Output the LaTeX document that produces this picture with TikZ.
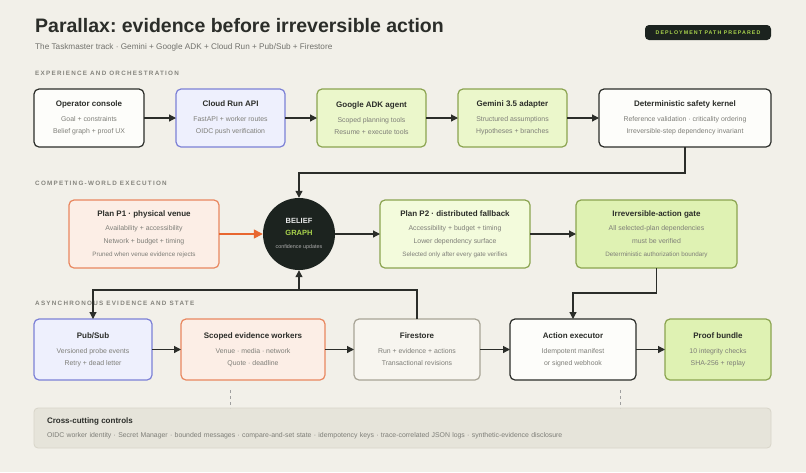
\documentclass[tikz,border=0pt]{standalone}
\usepackage{fontspec}
\setmainfont{Liberation Sans}
\newfontfamily\trackfont[LetterSpace=20]{Liberation Sans}
\usetikzlibrary{arrows.meta,positioning,calc}
\frenchspacing

\definecolor{canvas}{HTML}{F2F0E9}
\definecolor{ink}{HTML}{2B2D29}
\definecolor{muted}{HTML}{7E7E78}
\definecolor{lanegray}{HTML}{85847D}
\definecolor{paper}{HTML}{FDFDFA}
\definecolor{bluefill}{HTML}{EEF0FD}
\definecolor{blueedge}{HTML}{7C80D6}
\definecolor{greenfill}{HTML}{EBF7CB}
\definecolor{palegreen}{HTML}{F3FBDC}
\definecolor{gatefill}{HTML}{DFF2B3}
\definecolor{greenedge}{HTML}{8BA450}
\definecolor{orangefill}{HTML}{FCEEE6}
\definecolor{orangeedge}{HTML}{E9875F}
\definecolor{hotarrow}{HTML}{E8662F}
\definecolor{storefill}{HTML}{F7F5EF}
\definecolor{storeedge}{HTML}{A8A496}
\definecolor{ctrlfill}{HTML}{E6E4DA}
\definecolor{ctrledge}{HTML}{D8D5C9}
\definecolor{night}{HTML}{1C231F}
\definecolor{lime}{HTML}{A9D34C}

\newcommand{\cardtitle}[1]{{\fontsize{8}{10}\selectfont\bfseries\color{ink}#1}}
\newcommand{\fineline}[1]{{\fontsize{6.3}{8}\selectfont #1}}

\tikzset{
  card/.style={rectangle, rounded corners=5pt, line width=1.2pt, align=center,
    text=muted, font=\fontsize{6.9}{12}\selectfont, inner sep=0pt, outer sep=0pt},
  plain/.style={card, draw=ink, fill=paper},
  cloud/.style={card, draw=blueedge, fill=bluefill},
  agent/.style={card, draw=greenedge, fill=greenfill},
  hot/.style={card, draw=orangeedge, fill=orangefill},
  store/.style={card, draw=storeedge, fill=storefill},
  lane/.style={anchor=base west, inner sep=0pt, text=lanegray,
    font=\trackfont\bfseries\fontsize{6.3}{7}\selectfont},
  flow/.style={draw=ink, line width=1.2pt, -{Triangle[length=7pt,width=7pt]}},
  hotflow/.style={draw=hotarrow, line width=1.4pt, -{Triangle[length=9pt,width=9pt]}},
  tick/.style={draw=gray!75, line width=0.8pt, dash pattern=on 3pt off 3pt},
}

\begin{document}
\begin{tikzpicture}[x=1pt, y=-1pt]
\fill[canvas] (0,0) rectangle (806,472);
\useasboundingbox (0,0) rectangle (806,472);
% Header
\node[anchor=base west, inner sep=0pt, text=ink, font=\fontsize{19.5}{22}\selectfont\bfseries]
  (title) at (35,32.5) {Parallax: evidence before irreversible action};
\node[anchor=base west, inner sep=0pt, text=muted!90!black, font=\fontsize{8.2}{10}\selectfont]
  (sub) at (35,49.3) {The Taskmaster track · Gemini + Google ADK + Cloud Run + Pub/Sub + Firestore};
\node[rectangle, rounded corners=4pt, fill=night, minimum width=126pt, minimum height=15pt,
      inner sep=0pt, text=lime, font=\trackfont\bfseries\fontsize{5.3}{6}\selectfont]
  (ready) at (708,32.5) {DEPLOYMENT PATH PREPARED};
% Lane labels
\node[lane] (lane1) at (35,75)  {EXPERIENCE AND ORCHESTRATION};
\node[lane] (lane2) at (35,185) {COMPETING-WORLD EXECUTION};
\node[lane] (lane3) at (35,305) {ASYNCHRONOUS EVIDENCE AND STATE};
% Row 1: orchestration
\node[plain, minimum width=110pt, minimum height=58pt] (op)   at (89,118)
  {\cardtitle{Operator console}\\[3pt] Goal + constraints\\ Belief graph + proof UX};
\node[cloud, minimum width=109pt, minimum height=58pt] (api)  at (230.5,118)
  {\cardtitle{Cloud Run API}\\[3pt] FastAPI + worker routes\\ OIDC push verification};
\node[agent, minimum width=109pt, minimum height=58pt] (adk)  at (371.5,118)
  {\cardtitle{Google ADK agent}\\[3pt] Scoped planning tools\\ Resume + execute tools};
\node[agent, minimum width=109pt, minimum height=58pt] (gem)  at (512.5,118)
  {\cardtitle{Gemini 3.5 adapter}\\[3pt] Structured assumptions\\ Hypotheses + branches};
\node[plain, minimum width=172pt, minimum height=58pt] (kern) at (685,118)
  {\cardtitle{Deterministic safety kernel}\\[3pt] Reference validation · criticality ordering\\ Irreversible-step dependency invariant};
% Row 2: competing worlds
\node[hot, minimum width=150pt, minimum height=68pt] (p1) at (144,234)
  {\cardtitle{Plan P1 · physical venue}\\[2pt] Availability + accessibility\\[1pt] Network + budget + timing\\[1pt] \fineline{Pruned when venue evidence rejects}};
\node[circle, fill=night, minimum size=72pt, inner sep=0pt, align=center,
      font=\fontsize{7.5}{12}\selectfont\bfseries] (belief) at (299,234)
  {{\color{white!90!night}BELIEF}\\ {\color{lime}GRAPH}\\[1pt]
   {\fontsize{5.4}{7}\selectfont\mdseries\color{gray!65}confidence updates}};
\node[agent, fill=palegreen, minimum width=150pt, minimum height=68pt] (p2) at (455,234)
  {\cardtitle{Plan P2 · distributed fallback}\\[2pt] Accessibility + budget + timing\\[1pt] Lower dependency surface\\[1pt] \fineline{Selected only after every gate verifies}};
\node[agent, fill=gatefill, minimum width=161pt, minimum height=68pt] (gate) at (656.5,234)
  {\cardtitle{Irreversible-action gate}\\[2pt] All selected-plan dependencies\\[1pt] must be verified\\[1pt] \fineline{Deterministic authorization boundary}};
% Row 3: evidence and state
\node[cloud, minimum width=118pt, minimum height=61pt] (pub)   at (93,349.5)
  {\cardtitle{Pub/Sub}\\[3pt] Versioned probe events\\ Retry + dead letter};
\node[hot,   minimum width=144pt, minimum height=61pt] (work)  at (253,349.5)
  {\cardtitle{Scoped evidence workers}\\[3pt] Venue · media · network\\ Quote · deadline};
\node[store, minimum width=126pt, minimum height=61pt] (fire)  at (417,349.5)
  {\cardtitle{Firestore}\\[3pt] Run + evidence + actions\\ Transactional revisions};
\node[plain, minimum width=126pt, minimum height=61pt] (exec)  at (573,349.5)
  {\cardtitle{Action executor}\\[3pt] Idempotent manifest\\ or signed webhook};
\node[agent, fill=gatefill, minimum width=106pt, minimum height=61pt] (proof) at (718,349.5)
  {\cardtitle{Proof bundle}\\[3pt] 10 integrity checks\\ SHA-256 + replay};
% Cross-cutting strip
\node[card, draw=ctrledge, line width=0.8pt, fill=ctrlfill, rounded corners=4pt, align=left,
      text width=711pt, inner xsep=13pt, minimum height=40pt] (ctrl) at (402.5,428)
  {\cardtitle{Cross-cutting controls}\\[2pt] OIDC worker identity · Secret Manager · bounded messages · compare-and-set state · idempotency keys · trace-correlated JSON logs · synthetic-evidence disclosure};
% Bus rails
\coordinate (topbus) at (0,173);
\coordinate (gatebus) at (0,293);
\coordinate (lowbus) at (0,290);
\coordinate (tickA) at (230,390);
\coordinate (tickB) at (620,390);
% Connectors
\draw[flow] (op)  -- (api);
\draw[flow] (api) -- (adk);
\draw[flow] (adk) -- (gem);
\draw[flow] (gem) -- (kern);
\draw[flow] (kern.south) |- (belief.north |- topbus) -- (belief.north);
\draw[hotflow] (p1) -- (belief);
\draw[flow] (belief) -- (p2);
\draw[flow] (p2) -- (gate);
\draw[flow] (gate.south) |- (exec.north |- gatebus) -- (exec.north);
\draw[flow] (fire.north) |- (pub.north |- lowbus) -- (pub.north);
\draw[flow] (fire.north) |- (belief.south |- lowbus) -- (belief.south);
\draw[flow] (pub)  -- (work);
\draw[flow] (work) -- (fire);
\draw[flow] (fire) -- (exec);
\draw[flow] (exec) -- (proof);
\draw[tick] (tickA) -- (tickA |- ctrl.north);
\draw[tick] (tickB) -- (tickB |- ctrl.north);
\end{tikzpicture}
\end{document}
